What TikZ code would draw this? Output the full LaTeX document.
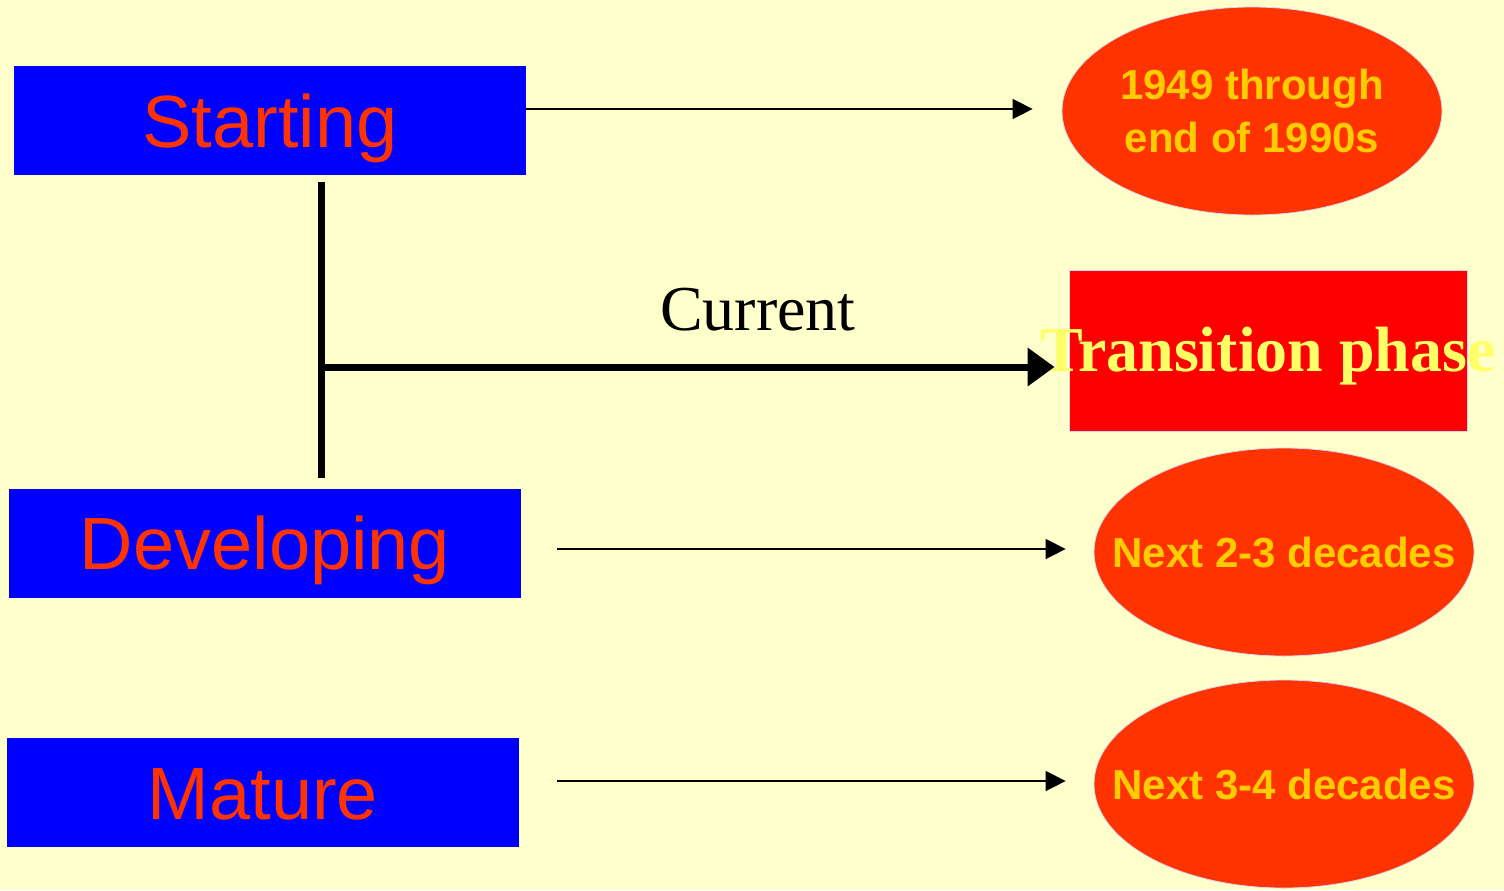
\documentclass[tikz,border=0pt]{standalone}
\usepackage{fontspec}
\setmainfont{Liberation Sans}
\newfontfamily\timesf{Liberation Serif}
\usetikzlibrary{shapes.geometric,arrows.meta}
\definecolor{bgc}{HTML}{FFFFCC}
\definecolor{boxblue}{HTML}{0000FF}
\definecolor{boxtxt}{HTML}{FF3300}
\definecolor{ellfill}{HTML}{FF3300}
\definecolor{elltxt}{HTML}{FFCC00}
\definecolor{tranfill}{HTML}{FF0000}
\definecolor{trantxt}{HTML}{FFFF66}
\definecolor{edgec}{HTML}{D8D8F0}
\tikzset{
  stagebox/.style={rectangle, fill=boxblue, minimum width=256pt, minimum height=54.5pt, inner sep=0pt,
    text=boxtxt, font=\fontsize{37}{40}\selectfont, text height=26.5pt, text depth=0pt},
  timeell/.style={ellipse, fill=ellfill, draw=edgec, line width=0.4pt, minimum width=190pt, minimum height=104pt, inner sep=0pt,
    text=elltxt, font=\bfseries\fontsize{21}{26.5}\selectfont, align=center},
  tranbox/.style={rectangle, fill=tranfill, draw=edgec, line width=0.4pt, minimum width=199pt, minimum height=80.5pt, inner sep=0pt,
    text=trantxt, font=\timesf\bfseries\fontsize{32}{36}\selectfont, text height=21pt, text depth=0pt},
  thinarrow/.style={line width=0.75pt, -{Triangle[length=10pt,width=10pt]}},
  thickline/.style={line width=3.5pt},
  thickarrow/.style={line width=3.5pt, -{Triangle[length=13.5pt,width=18.5pt]}},
}
\begin{document}
\begin{tikzpicture}[x=0.5pt,y=-0.5pt]
\useasboundingbox (0,0) rectangle (1504,890);
\fill[bgc] (0,0) rectangle (1504,890);

\node[stagebox] (s) at (270,120.5) {Starting};
\node[stagebox] (d) at (265,543) {Developing};
\node[stagebox] (m) at (263,792.5) {Mature};

\node[timeell] (e1) at (1252,111) {1949 through\\end of 1990s};
\node[tranbox] (t) at (1268,350.5) {\makebox[0pt][c]{Transition phase}};
\node[timeell, text height=15pt, text depth=0pt] (e2) at (1284,552) {\makebox[0pt][c]{Next 2-3 decades}};
\node[timeell, text height=15pt, text depth=0pt] (e3) at (1284,784) {\makebox[0pt][c]{Next 3-4 decades}};

\node[font=\timesf\fontsize{32}{36}\selectfont, text height=21.5pt, text depth=0pt] (cur) at (758,309) {Current};

\draw[thinarrow] ([yshift=5.75pt]s.east) -- ([xshift=-14.5pt,yshift=1pt]e1.west);
\draw[thinarrow] ([xshift=18pt,yshift=-3pt]d.east) -- ([xshift=-14pt,yshift=1.5pt]e2.west);
\draw[thinarrow] ([xshift=19pt,yshift=5.75pt]m.east) -- ([xshift=-14pt,yshift=1.5pt]e3.west);

\coordinate (vtop) at ([xshift=25.5pt,yshift=-3.5pt]s.south);
\coordinate (vbot) at ([xshift=28pt,yshift=5pt]d.north);
\draw[thickline] (vtop) -- (vbot);
\coordinate (tend) at ([xshift=-7pt,yshift=-8.25pt]t.west);
\draw[thickarrow] (vtop |- tend) -- (tend);
\end{tikzpicture}
\end{document}
